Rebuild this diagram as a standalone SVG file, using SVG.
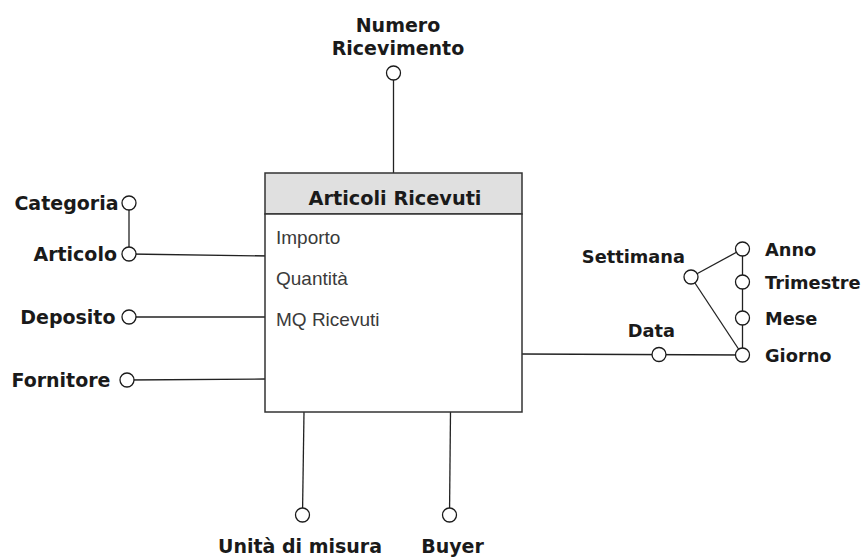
<svg xmlns="http://www.w3.org/2000/svg" width="866" height="559" viewBox="0 0 866 559">
  <style>
    .lbl { font-family: "DejaVu Sans", Verdana, sans-serif; font-weight: bold; font-size: 19px; fill: #1a1a1a; }
    .lbl-r { font-family: "DejaVu Sans", Verdana, sans-serif; font-weight: bold; font-size: 17.8px; fill: #1a1a1a; }
    .attr { font-family: "Liberation Sans", Arial, sans-serif; font-size: 19px; fill: #3a3a3a; }
    .title { font-family: "DejaVu Sans", Verdana, sans-serif; font-weight: bold; font-size: 19.3px; fill: #1a1a1a; }
    .pt { fill: #ffffff; stroke: #1a1a1a; stroke-width: 1.3; }
    .edge { stroke: #222222; stroke-width: 1.3; fill: none; }
  </style>

  <!-- connectors (drawn first so the circles sit on top) -->
  <g id="connectors">
    <line class="edge" x1="393.5" y1="73" x2="393.5" y2="173"/>
    <line class="edge" x1="129" y1="203" x2="129" y2="254"/>
    <line class="edge" x1="129" y1="254" x2="271" y2="256"/>
    <line class="edge" x1="129" y1="317" x2="265" y2="317"/>
    <line class="edge" x1="127" y1="380" x2="265" y2="379"/>
    <line class="edge" x1="522" y1="354" x2="742.5" y2="355"/>
    <line class="edge" x1="742.5" y1="249" x2="742.5" y2="355"/>
    <line class="edge" x1="691" y1="277" x2="742.5" y2="249"/>
    <line class="edge" x1="691" y1="277" x2="742.5" y2="355"/>
    <line class="edge" x1="304" y1="412" x2="302.5" y2="515"/>
    <line class="edge" x1="450.5" y1="412" x2="449.5" y2="515"/>
  </g>

  <!-- fact table -->
  <g id="articoli-ricevuti">
    <rect x="265" y="173" width="257" height="41" fill="#e0e0e0" stroke="#333333" stroke-width="1.5"/>
    <rect x="265" y="214" width="257" height="198" fill="#ffffff" stroke="#333333" stroke-width="1.5"/>
    <text class="title" x="395" y="205" text-anchor="middle">Articoli Ricevuti</text>
    <text class="attr" x="276" y="244">Importo</text>
    <text class="attr" x="276" y="285">Quantità</text>
    <text class="attr" x="276" y="326">MQ Ricevuti</text>
  </g>

  <!-- dimension attributes -->
  <g id="numero-ricevimento">
    <circle class="pt" cx="393.5" cy="73" r="7"/>
    <text class="lbl" x="398" y="31.5" text-anchor="middle">Numero</text>
    <text class="lbl" x="398" y="55" text-anchor="middle">Ricevimento</text>
  </g>
  <g id="categoria">
    <circle class="pt" cx="129" cy="203" r="7"/>
    <text class="lbl" x="118.5" y="210" text-anchor="end">Categoria</text>
  </g>
  <g id="articolo">
    <circle class="pt" cx="129" cy="254" r="7"/>
    <text class="lbl" x="117" y="261" text-anchor="end">Articolo</text>
  </g>
  <g id="deposito">
    <circle class="pt" cx="129" cy="317" r="7"/>
    <text class="lbl" x="115.5" y="324" text-anchor="end">Deposito</text>
  </g>
  <g id="fornitore">
    <circle class="pt" cx="127" cy="380" r="7"/>
    <text class="lbl" x="110.5" y="387" text-anchor="end">Fornitore</text>
  </g>
  <g id="unita-di-misura">
    <circle class="pt" cx="302.5" cy="515" r="7"/>
    <text class="lbl" x="300" y="553" text-anchor="middle">Unità di misura</text>
  </g>
  <g id="buyer">
    <circle class="pt" cx="449.5" cy="515" r="7"/>
    <text class="lbl" x="452.5" y="553" text-anchor="middle">Buyer</text>
  </g>
  <g id="data">
    <circle class="pt" cx="659" cy="354.5" r="7"/>
    <text class="lbl-r" x="651.5" y="337" text-anchor="middle">Data</text>
  </g>
  <g id="settimana">
    <circle class="pt" cx="691" cy="277" r="7"/>
    <text class="lbl-r" x="685" y="263" text-anchor="end">Settimana</text>
  </g>
  <g id="anno">
    <circle class="pt" cx="742.5" cy="249" r="7"/>
    <text class="lbl-r" x="765" y="256">Anno</text>
  </g>
  <g id="trimestre">
    <circle class="pt" cx="742.5" cy="282" r="7"/>
    <text class="lbl-r" x="765" y="289">Trimestre</text>
  </g>
  <g id="mese">
    <circle class="pt" cx="742.5" cy="318" r="7"/>
    <text class="lbl-r" x="765" y="325">Mese</text>
  </g>
  <g id="giorno">
    <circle class="pt" cx="742.5" cy="355" r="7"/>
    <text class="lbl-r" x="765" y="362">Giorno</text>
  </g>
</svg>
